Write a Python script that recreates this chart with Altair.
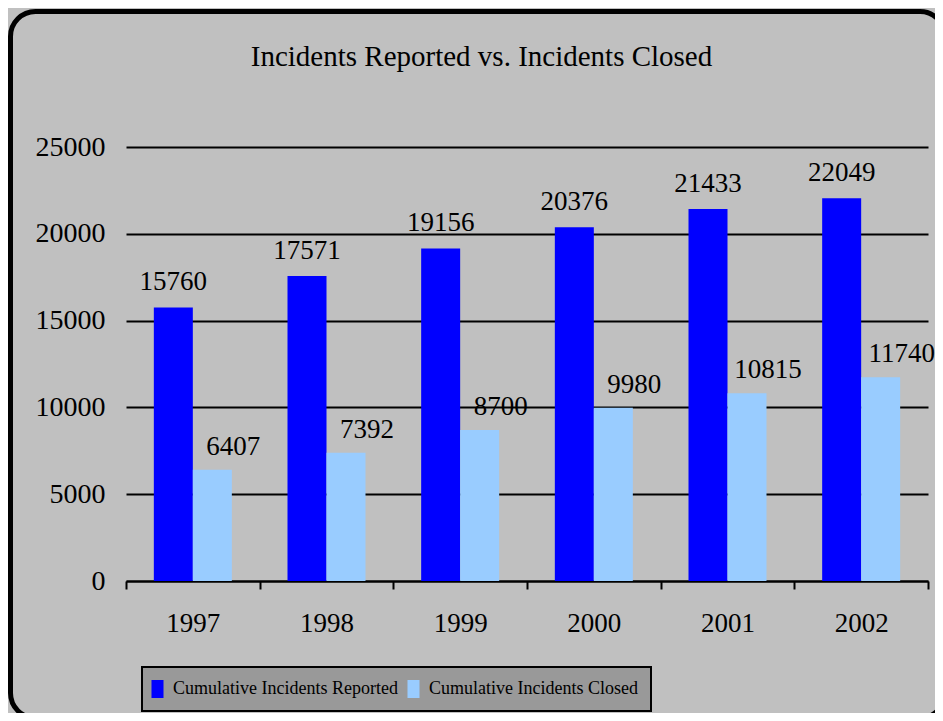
import altair as alt
import pandas as pd

years = ["1997", "1998", "1999", "2000", "2001", "2002"]
reported = [15760, 17571, 19156, 20376, 21433, 22049]
closed = [6407, 7392, 8700, 9980, 10815, 11740]
series = ["Cumulative Incidents Reported", "Cumulative Incidents Closed"]
colors = ["#0000FF", "#99CCFF"]
y_ticks = [0, 5000, 10000, 15000, 20000, 25000]

rows = []
for i, yr in enumerate(years):
    rows.append({"year": yr, "series": series[0], "value": reported[i]})
    rows.append({"year": yr, "series": series[1], "value": closed[i]})
df = pd.DataFrame(rows)

FONT = "Liberation Serif"
W, H = 802, 434

x_enc = alt.X(
    "year:N",
    sort=years,
    scale=alt.Scale(paddingInner=0, paddingOuter=0),
    axis=alt.Axis(
        title=None, labelAngle=0, labelFont=FONT, labelFontSize=27,
        labelColor="black", labelPadding=21, domainColor="black",
        domainWidth=2, tickColor="black", tickWidth=2, tickSize=8,
        tickBand="extent", grid=False,
    ),
)
xoff_enc = alt.XOffset(
    "series:N", sort=series,
    scale=alt.Scale(domain=series, paddingInner=0, paddingOuter=0.7137),
)
y_enc = alt.Y(
    "value:Q",
    scale=alt.Scale(domain=[0, 25000], nice=False),
    axis=alt.Axis(
        title=None, values=y_ticks, format="d", labelFont=FONT,
        labelFontSize=28, labelColor="black", labelPadding=21,
        domain=False, ticks=False, grid=True, gridColor="black",
        gridWidth=2, gridOpacity=1,
    ),
)

border = alt.Chart(pd.DataFrame({"k": [0]})).mark_rect(
    fill="transparent", stroke="black", strokeWidth=5, cornerRadius=25
).encode(
    x=alt.value(-115.5), x2=alt.value(819),
    y=alt.value(-135.5), y2=alt.value(571),
)

bars = alt.Chart(df).mark_bar().encode(
    x=x_enc,
    xOffset=xoff_enc,
    y=y_enc,
    color=alt.Color(
        "series:N",
        scale=alt.Scale(domain=series, range=colors),
        legend=alt.Legend(
            title=None, orient="none", legendX=16, legendY=520,
            direction="horizontal", fillColor="#999999",
            strokeColor="black", padding=13,
            symbolType="M-2.78,-2H-0.11V2H-2.78Z", symbolSize=81,
            symbolStrokeWidth=0, labelOffset=0, columnPadding=9,
            labelFont=FONT, labelFontSize=18, labelColor="black",
            labelLimit=0,
        ),
    ),
)

text_rep = alt.Chart(df).transform_filter(
    alt.datum.series == series[0]
).mark_text(
    font=FONT, fontSize=27, color="black", baseline="alphabetic", dy=-17
).encode(x=x_enc, xOffset=xoff_enc, y=y_enc, text=alt.Text("value:Q", format="d"))

text_clo = alt.Chart(df).transform_filter(
    alt.datum.series == series[1]
).mark_text(
    font=FONT, fontSize=27, color="black", baseline="alphabetic", dy=-15, dx=21
).encode(x=x_enc, xOffset=xoff_enc, y=y_enc, text=alt.Text("value:Q", format="d"))

chart = alt.layer(border, bars, text_rep, text_clo).properties(
    width=W, height=H,
    title=alt.TitleParams(
        "Incidents Reported vs. Incidents Closed", font=FONT, fontSize=29,
        fontWeight="normal", color="black", anchor="middle", frame="group",
        offset=0, baseline="alphabetic", dx=-45.5, dy=86,
    ),
    autosize=alt.AutoSizeParams(type="none"),
    padding={"left": 118, "top": 139, "right": 7, "bottom": 132},
    background="#C0C0C0",
).configure_view(stroke=None).configure_legend(strokeWidth=2)

chart.save("out.html", embed_options={"renderer": "svg", "actions": False})
